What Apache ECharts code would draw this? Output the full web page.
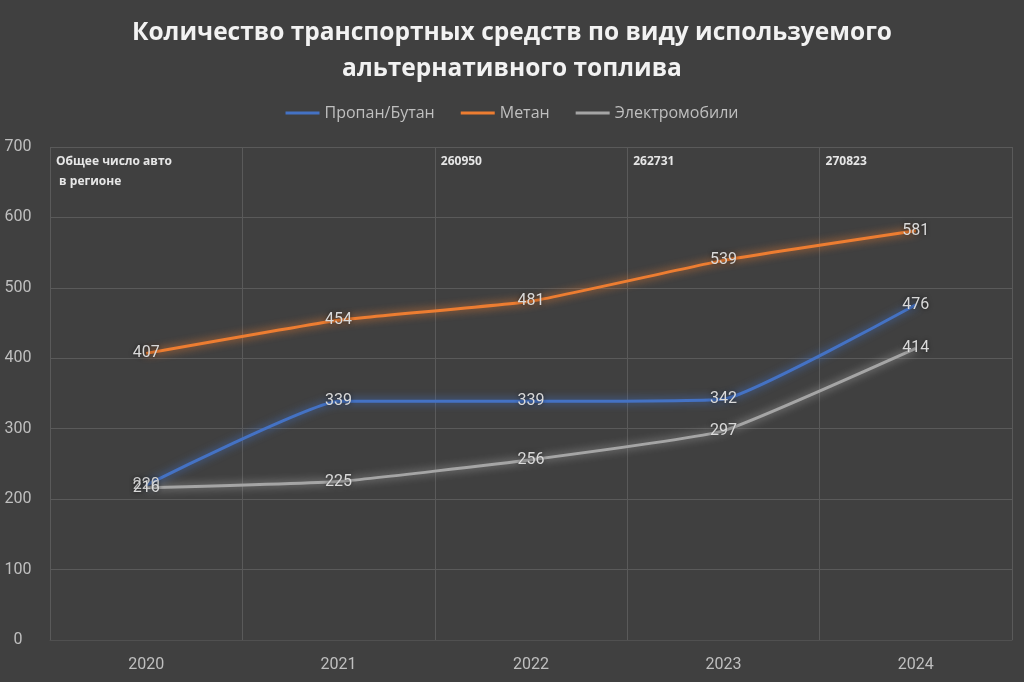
<!DOCTYPE html>
<html>
<head>
<meta charset="utf-8">
<script src="https://cdn.jsdelivr.net/npm/echarts@6/dist/echarts.min.js"></script>
<style>
  html, body { margin: 0; padding: 0; background: #404040; }
  #chart { width: 1024px; height: 682px; }
</style>
</head>
<body>
<div id="chart"></div>
<script>
// годы
const years = ['2020', '2021', '2022', '2023', '2024'];
// ряды
const propane = [220, 339, 339, 342, 476];
const methane = [407, 454, 481, 539, 581];
const electro = [216, 225, 256, 297, 414];
// общее число авто в регионе (подписи сверху)
const totals = ['Общее число авто\n в регионе', '', '260950', '262731', '270823'];
const yTicks = [0, 100, 200, 300, 400, 500, 600, 700];

const chart = echarts.init(document.getElementById('chart'));

function lineSeries(name, data, color) {
  return {
    name: name,
    type: 'line',
    data: data,
    smooth: 0.12,
    symbol: 'circle',
    symbolSize: 0,
    showSymbol: true,
    lineStyle: {
      width: 3,
      color: color,
      shadowColor: color,
      shadowBlur: 8
    },
    itemStyle: { color: color },
    label: {
      show: true,
      position: 'inside',
      color: '#d9d9d9',
      fontSize: 16,
      fontFamily: 'Liberation Sans Narrow, Roboto, sans-serif',
      textShadowColor: 'rgba(0,0,0,0.6)',
      textShadowBlur: 4
    },
    z: 3
  };
}

chart.setOption({
  backgroundColor: '#404040',
  animation: false,
  title: {
    text: 'Количество транспортных средств по виду используемого\nальтернативного топлива',
    left: 'center',
    top: 10,
    textStyle: {
      color: '#f2f2f2',
      fontSize: 24.5,
      fontWeight: 'bold',
      fontFamily: 'Open Sans, sans-serif',
      lineHeight: 36
    }
  },
  legend: {
    top: 100,
    left: 'center',
    itemWidth: 34,
    itemHeight: 3,
    itemGap: 26,
    icon: 'rect',
    textStyle: {
      color: '#bfbfbf',
      fontSize: 16,
      fontFamily: 'Open Sans, sans-serif'
    },
    data: ['Пропан/Бутан', 'Метан', 'Электромобили']
  },
  grid: {
    left: 50,
    right: 12,
    top: 147,
    bottom: 42,
    containLabel: false
  },
  xAxis: {
    type: 'category',
    data: years,
    boundaryGap: true,
    axisLine: { show: true, lineStyle: { color: '#505050' } },
    axisTick: { show: false },
    splitLine: { show: true, lineStyle: { color: '#5a5a5a', width: 1 } },
    axisLabel: {
      color: '#bfbfbf',
      fontSize: 16,
      margin: 17,
      fontFamily: 'Liberation Sans Narrow, Roboto, sans-serif'
    }
  },
  yAxis: {
    type: 'value',
    min: yTicks[0],
    max: yTicks[yTicks.length - 1],
    interval: 100,
    axisLine: { show: false },
    axisTick: { show: false },
    splitLine: { lineStyle: { color: '#5a5a5a', width: 1 } },
    axisLabel: {
      color: '#bfbfbf',
      fontSize: 16,
      margin: 32,
      align: 'center',
      fontFamily: 'Liberation Sans Narrow, Roboto, sans-serif'
    }
  },
  series: [
    lineSeries('Пропан/Бутан', propane, '#4472c4'),
    lineSeries('Метан', methane, '#ed7d31'),
    lineSeries('Электромобили', electro, '#a5a5a5')
  ]
});

// подписи общего числа авто в левом верхнем углу каждой колонки
const graphics = [];
totals.forEach(function (t, i) {
  if (!t) return;
  const p = chart.convertToPixel({ xAxisIndex: 0, yAxisIndex: 0 }, [i, yTicks[yTicks.length - 1]]);
  const half = chart.convertToPixel({ xAxisIndex: 0 }, years[1]) - chart.convertToPixel({ xAxisIndex: 0 }, years[0]);
  graphics.push({
    type: 'text',
    left: p[0] - half / 2 + 6,
    top: p[1] + 5,
    style: {
      text: t,
      fill: '#e6e6e6',
      font: 'bold 12px "Open Sans", sans-serif',
      lineHeight: 20
    }
  });
});
chart.setOption({ graphic: graphics });
</script>
</body>
</html>
